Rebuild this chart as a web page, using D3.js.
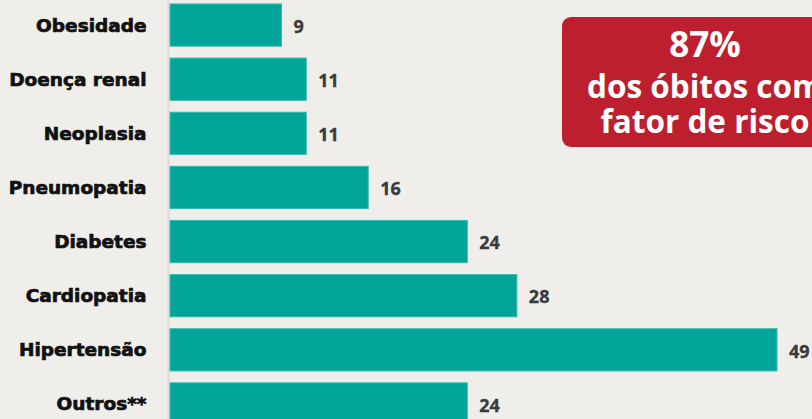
<!DOCTYPE html>
<html>
<head>
<meta charset="utf-8">
<script src="https://cdn.jsdelivr.net/npm/d3@7"></script>
<style>
  body { margin: 0; background: #efeeea; overflow: hidden; }
</style>
</head>
<body>
<div id="chart"></div>
<script>
const width = 812;
const height = 419;

// Data
const categories = ["Obesidade", "Doença renal", "Neoplasia", "Pneumopatia", "Diabetes", "Cardiopatia", "Hipertensão", "Outros**"];
const values = [9, 11, 11, 16, 24, 28, 49, 24];
const calloutLines = ["87%", "dos óbitos com", "fator de risco"];

const rows = categories.map((c, i) => ({ name: c, value: values[i] }));

const svg = d3.select("#chart").append("svg")
    .attr("width", width)
    .attr("height", height);

svg.append("rect")
    .attr("width", width)
    .attr("height", height)
    .attr("fill", "#efeeea");

// Scales
const x = d3.scaleLinear().domain([0, 49]).range([170, 777]);
const y = d3.scaleBand()
    .domain(categories)
    .range([-2, 431])
    .paddingInner(0.22)
    .paddingOuter(0.11);

// faint baseline
svg.append("line")
    .attr("x1", 168.5).attr("x2", 168.5)
    .attr("y1", 0).attr("y2", height)
    .attr("stroke", "#dcdcd8")
    .attr("stroke-width", 2);

// Bars
svg.selectAll(".bar").data(rows).enter()
    .append("rect")
    .attr("class", "bar")
    .attr("x", x(0))
    .attr("y", d => y(d.name))
    .attr("width", d => x(d.value) - x(0))
    .attr("height", y.bandwidth())
    .attr("fill", "#00a499")
    .attr("stroke", "#3db7ad")
    .attr("stroke-width", 1);

// Category labels
svg.selectAll(".cat").data(rows).enter()
    .append("text")
    .attr("class", "cat")
    .attr("x", 146.5)
    .attr("y", d => y(d.name) + y.bandwidth() / 2)
    .attr("dy", "0.35em")
    .attr("text-anchor", "end")
    .attr("font-family", "DejaVu Sans, sans-serif")
    .attr("font-weight", "bold")
    .attr("font-size", 18.5)
    .attr("fill", "#111")
    .attr("stroke", "#111")
    .attr("stroke-width", 0.7)
    .text(d => d.name);

// Value labels
svg.selectAll(".val").data(rows).enter()
    .append("text")
    .attr("class", "val")
    .attr("x", d => x(d.value) + 12)
    .attr("y", d => y(d.name) + y.bandwidth() / 2 + 1.5)
    .attr("dy", "0.35em")
    .attr("font-family", "Open Sans, sans-serif")
    .attr("font-weight", "bold")
    .attr("font-size", 18)
    .attr("fill", "#3a3a3a")
    .attr("stroke", "#3a3a3a")
    .attr("stroke-width", 0.3)
    .text(d => d.value);

// Callout box
const box = svg.append("g");
box.append("rect")
    .attr("x", 562)
    .attr("y", 17)
    .attr("width", 290)
    .attr("height", 130)
    .attr("rx", 9)
    .attr("fill", "#bd1f2f");

box.selectAll("text").data(calloutLines).enter()
    .append("text")
    .attr("x", 705)
    .attr("y", (d, i) => [57, 98, 133][i])
    .attr("text-anchor", "middle")
    .attr("font-family", "Open Sans, sans-serif")
    .attr("font-weight", "bold")
    .attr("font-size", (d, i) => i === 0 ? 35 : 31.5)
    .attr("fill", "#fff")
    .text(d => d);
</script>
</body>
</html>
